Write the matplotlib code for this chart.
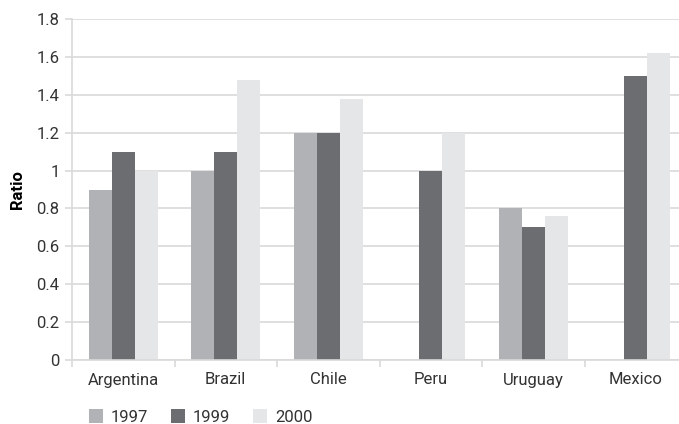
import matplotlib.pyplot as plt
import numpy as np

countries = ['Argentina', 'Brazil', 'Chile', 'Peru', 'Uruguay', 'Mexico']
years = ['1997', '1999', '2000']
ratio_1997 = [0.9, 1.0, 1.2, np.nan, 0.8, np.nan]
ratio_1999 = [1.1, 1.1, 1.2, 1.0, 0.7, 1.5]
ratio_2000 = [1.0, 1.48, 1.38, 1.2, 0.76, 1.62]
colors = ['#b1b2b5', '#6c6d70', '#e5e6e8']

plt.rcParams['font.family'] = ['Roboto', 'DejaVu Sans']
text_color = '#333333'
grid_color = '#d9d9d9'
fs = 12

fig = plt.figure(figsize=(6.79, 4.24), dpi=100)
# axes runs a bit past the right edge like the original crop
ax = fig.add_axes([72 / 679, 64 / 424, 615 / 679, 341 / 424])

x = np.arange(len(countries))
width = 0.224
series = [ratio_1997, ratio_1999, ratio_2000]
for i, (vals, col, yr) in enumerate(zip(series, colors, years)):
    ax.bar(x + (i - 1) * width, vals, width, color=col, label=yr, zorder=2)

ax.set_xlim(-0.5, len(countries) - 0.5)
ax.set_ylim(0, 1.8)
ax.set_yticks(np.arange(0, 1.81, 0.2))
ax.set_yticklabels(['0', '0.2', '0.4', '0.6', '0.8', '1', '1.2', '1.4', '1.6', '1.8'])
ax.yaxis.grid(True, color=grid_color, linewidth=1.2, zorder=0)
ax.set_axisbelow(True)

ax.set_xticks(x)
ax.set_xticklabels(countries)
ax.tick_params(axis='x', which='major', length=0, pad=9, labelsize=fs, labelcolor=text_color)
ax.set_xticks(np.arange(-0.5, len(countries), 1.0), minor=True)
ax.tick_params(axis='x', which='minor', length=5, color=grid_color, width=1.2)
ax.tick_params(axis='y', length=5, color=grid_color, width=1.2, pad=4, labelsize=fs, labelcolor=text_color)

for side in ['top', 'right']:
    ax.spines[side].set_visible(False)
for side in ['left', 'bottom']:
    ax.spines[side].set_color(grid_color)
    ax.spines[side].set_linewidth(1.2)

ax.set_ylabel('Ratio', fontweight='bold', fontsize=fs, color='black', labelpad=8)

fig.legend(loc='center left', bbox_to_anchor=(89 / 679, 1 - 417 / 424), ncol=3,
           frameon=False, fontsize=fs, handlelength=0.84, handleheight=0.84,
           handletextpad=0.45, columnspacing=1.4, borderpad=0, borderaxespad=0,
           labelcolor=text_color)

fig.savefig('out.png', dpi=100)
